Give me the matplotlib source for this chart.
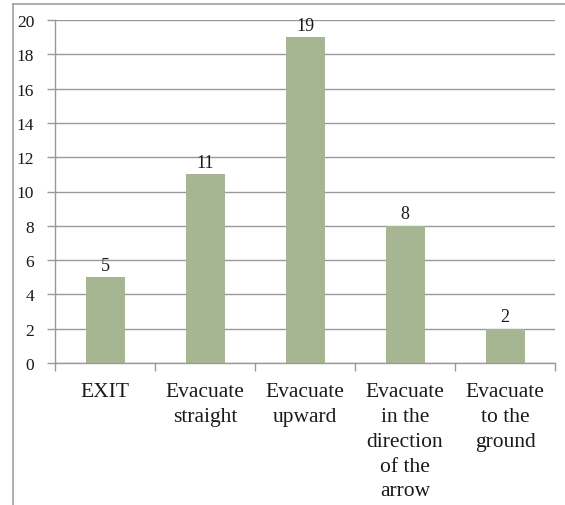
import matplotlib.pyplot as plt
from matplotlib.lines import Line2D

categories = ["EXIT", "Evacuate\nstraight", "Evacuate\nupward",
              "Evacuate\nin the\ndirection\nof the\narrow", "Evacuate\nto the\nground"]
counts = [5, 11, 19, 8, 2]
yticks = [0, 2, 4, 6, 8, 10, 12, 14, 16, 18, 20]

bar_color = "#a6b592"
grid_color = "#999999"

plt.rcParams["font.family"] = ["Liberation Serif", "DejaVu Serif"]

fig = plt.figure(figsize=(5.65, 5.06), dpi=100)
ax = fig.add_axes([55 / 565, 1 - 364 / 506, 500 / 565, 343 / 506])

x = list(range(len(categories)))
bars = ax.bar(x, counts, width=0.39, color=bar_color, zorder=2)
for xi, v in zip(x, counts):
    ax.text(xi, v + 0.2, str(v), ha="center", va="bottom", fontsize=13, color="#1a1a1a")

ax.set_xlim(-0.5, len(categories) - 0.5)
ax.set_ylim(0, 20)
ax.set_yticks(yticks)
ax.set_yticklabels([str(t) for t in yticks], fontsize=12.5, color="#1a1a1a")
ax.yaxis.grid(True, color=grid_color, linewidth=1, zorder=0)
ax.set_axisbelow(True)

# category labels sit between the boundary ticks
ax.set_xticks(x)
ax.set_xticklabels(categories, fontsize=15.5, linespacing=1.41, color="#1a1a1a")
ax.tick_params(axis="x", length=0, pad=14)
ax.set_xticks([i - 0.5 for i in range(len(categories) + 1)], minor=True)
ax.tick_params(axis="x", which="minor", length=6, color=grid_color, width=1)
ax.tick_params(axis="y", length=6, color=grid_color, width=1, pad=9)

for s in ["top", "right"]:
    ax.spines[s].set_visible(False)
for s in ["left", "bottom"]:
    ax.spines[s].set_color(grid_color)
    ax.spines[s].set_linewidth(1)

# chart frame edges
fig.add_artist(Line2D([13 / 565, 1], [1 - 5 / 506, 1 - 5 / 506], color="#a0a0a0", lw=1.2))
fig.add_artist(Line2D([13 / 565, 13 / 565], [0, 1 - 5 / 506], color="#a0a0a0", lw=1.2))

fig.savefig("out.png", dpi=100)
